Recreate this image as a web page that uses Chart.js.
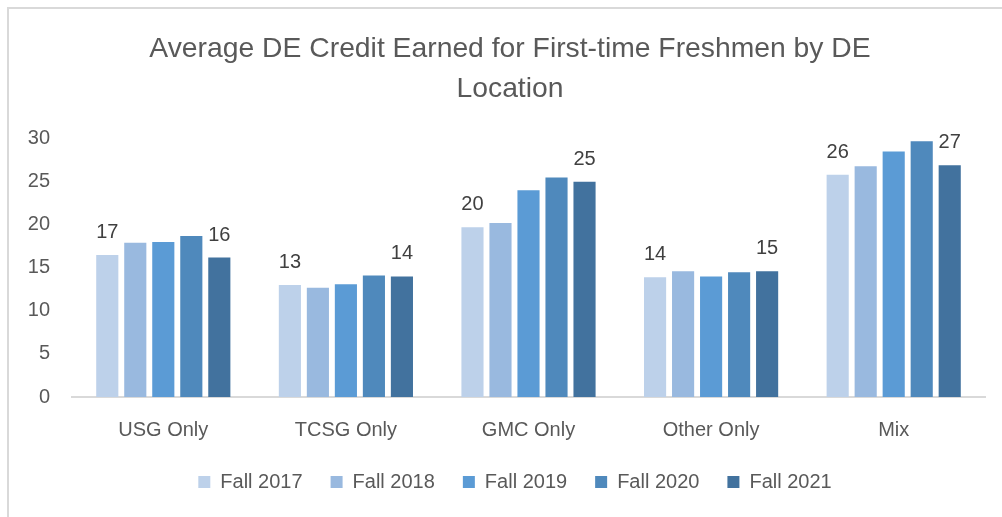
<!DOCTYPE html>
<html>
<head>
<meta charset="utf-8">
<script src="https://cdn.jsdelivr.net/npm/chart.js@4.4.1/dist/chart.umd.min.js"></script>
<style>
  html, body { margin: 0; padding: 0; background: #ffffff; }
  #wrap { position: relative; width: 1002px; height: 517px; overflow: hidden; }
  #frame { position: absolute; left: 7px; top: 7px; width: 1100px; height: 600px;
           border-left: 2px solid #d9d9d9; border-top: 2px solid #d9d9d9; pointer-events: none; }
  canvas { position: absolute; left: 0; top: 0; }
</style>
</head>
<body>
<div id="wrap">
  <canvas id="c" width="1002" height="517"></canvas>
  <div id="frame"></div>
</div>
<script>
const titleLines = ["Average DE Credit Earned for First-time Freshmen by DE", "Location"];
const categories = ["USG Only", "TCSG Only", "GMC Only", "Other Only", "Mix"];
const seriesNames = ["Fall 2017", "Fall 2018", "Fall 2019", "Fall 2020", "Fall 2021"];
const fall2017 = [16.5, 13.0, 19.7, 13.9, 25.8];
const fall2018 = [17.9, 12.7, 20.2, 14.6, 26.8];
const fall2019 = [18.0, 13.1, 24.0, 14.0, 28.5];
const fall2020 = [18.7, 14.1, 25.5, 14.5, 29.7];
const fall2021 = [16.2, 14.0, 25.0, 14.6, 26.9];
const yTicks = [0, 5, 10, 15, 20, 25, 30];
const labelledSeries = [0, 4];

const colors = ["#bdd1ea", "#99b9df", "#5b9bd5", "#4f89bc", "#42729e"];
const values = [fall2017, fall2018, fall2019, fall2020, fall2021];
const FONT = "'Liberation Sans', Arial, sans-serif";

const dataLabels = {
  id: 'dataLabels',
  afterDatasetsDraw(chart) {
    const ctx = chart.ctx;
    ctx.save();
    ctx.font = "20px " + FONT;
    ctx.fillStyle = "#404040";
    ctx.textAlign = "center";
    ctx.textBaseline = "alphabetic";
    labelledSeries.forEach(di => {
      const meta = chart.getDatasetMeta(di);
      meta.data.forEach((el, i) => {
        const v = chart.data.datasets[di].data[i];
        ctx.fillText(String(Math.round(v)), el.x, el.y - 17);
      });
    });
    ctx.restore();
  }
};

// nudge the centred title and legend to where the reference centres them
const boxNudge = {
  id: 'boxNudge',
  afterLayout(chart) {
    if (chart.legend) { chart.legend.left += 9; chart.legend.right += 9; }
    if (chart.titleBlock) { chart.titleBlock.left += 4; chart.titleBlock.right += 4; }
  }
};

new Chart(document.getElementById('c'), {
  type: 'bar',
  data: {
    labels: categories,
    datasets: seriesNames.map((name, i) => ({
      label: name,
      data: values[i],
      backgroundColor: colors[i],
      borderWidth: 0,
      categoryPercentage: 0.767,
      barPercentage: 0.79
    }))
  },
  options: {
    responsive: false,
    animation: false,
    devicePixelRatio: 1,
    layout: { padding: { left: 27, right: 17, top: 0, bottom: 15 } },
    plugins: {
      title: {
        display: true,
        text: titleLines,
        color: "#595959",
        font: { family: FONT, size: 28.3, weight: 'normal', lineHeight: 1.39 },
        padding: { top: 30, bottom: 30 }
      },
      legend: {
        position: 'bottom',
        labels: {
          color: "#595959",
          font: { family: FONT, size: 20 },
          boxWidth: 12,
          boxHeight: 12,
          padding: 28
        }
      },
      tooltip: { enabled: false }
    },
    scales: {
      x: {
        afterFit(scale) { scale.height = 47; },
        grid: { display: false, drawTicks: false },
        border: { display: true, color: "#d9d9d9", width: 2 },
        ticks: { color: "#595959", font: { family: FONT, size: 20 }, padding: 21 }
      },
      y: {
        min: 0,
        max: 30,
        afterBuildTicks(scale) { scale.ticks = yTicks.map(v => ({ value: v })); },
        afterFit(scale) { scale.width = 45; },
        grid: { display: false, drawTicks: false },
        border: { display: false },
        ticks: { color: "#595959", font: { family: FONT, size: 20 }, padding: 22 }
      }
    }
  },
  plugins: [dataLabels, boxNudge]
});
</script>
</body>
</html>
